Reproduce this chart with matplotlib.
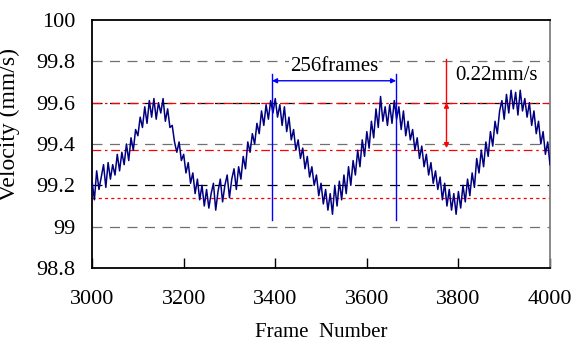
import numpy as np
import matplotlib.pyplot as plt

plt.rcParams['font.family'] = ['Liberation Serif', 'DejaVu Serif']

frame_start = 3000
frame_step = 5
velocity = [
    99.22, 99.13, 99.27, 99.18, 99.24, 99.30, 99.19, 99.31, 99.23, 99.30,
    99.25, 99.35, 99.27, 99.36, 99.30, 99.40, 99.32, 99.43, 99.37, 99.47,
    99.44, 99.53, 99.48, 99.58, 99.50, 99.61, 99.53, 99.62, 99.52, 99.60,
    99.55, 99.62, 99.51, 99.57, 99.48, 99.49, 99.41, 99.36, 99.41, 99.32,
    99.35, 99.26, 99.31, 99.21, 99.26, 99.16, 99.23, 99.13, 99.20, 99.10,
    99.18, 99.09, 99.16, 99.21, 99.08, 99.17, 99.23, 99.12, 99.20, 99.25,
    99.14, 99.23, 99.28, 99.18, 99.29, 99.23, 99.34, 99.28, 99.41, 99.36,
    99.45, 99.40, 99.50, 99.45, 99.56, 99.49, 99.59, 99.52, 99.61, 99.55,
    99.62, 99.53, 99.59, 99.49, 99.58, 99.46, 99.53, 99.42, 99.47, 99.37,
    99.42, 99.33, 99.38, 99.28, 99.34, 99.24, 99.29, 99.20, 99.25, 99.15,
    99.21, 99.11, 99.18, 99.08, 99.16, 99.06, 99.20, 99.10, 99.22, 99.13,
    99.25, 99.16, 99.29, 99.20, 99.32, 99.25, 99.37, 99.29, 99.42, 99.34,
    99.46, 99.38, 99.51, 99.43, 99.57, 99.48, 99.63, 99.51, 99.58, 99.49,
    99.59, 99.50, 99.61, 99.52, 99.58, 99.47, 99.56, 99.44, 99.51, 99.42,
    99.47, 99.37, 99.43, 99.33, 99.39, 99.29, 99.35, 99.25, 99.31, 99.21,
    99.27, 99.18, 99.24, 99.13, 99.21, 99.10, 99.18, 99.08, 99.16, 99.06,
    99.17, 99.09, 99.20, 99.12, 99.23, 99.15, 99.26, 99.19, 99.33, 99.26,
    99.37, 99.29, 99.41, 99.34, 99.46, 99.39, 99.51, 99.45, 99.56, 99.61,
    99.52, 99.64, 99.55, 99.66, 99.57, 99.65, 99.54, 99.66, 99.56, 99.62,
    99.53, 99.60, 99.49, 99.56, 99.45, 99.51, 99.40, 99.46, 99.35, 99.41,
    99.30,
]
frames = frame_start + frame_step * np.arange(len(velocity))

y_ticks = [98.8, 99.0, 99.2, 99.4, 99.6, 99.8, 100.0]
y_labels = ['98.8', '99', '99.2', '99.4', '99.6', '99.8', '100']
x_ticks = [3000, 3200, 3400, 3600, 3800, 4000]

# reference lines
grid_gray = [99.0, 99.4, 99.8]
grid_black = [99.2, 99.6]
red_dashdot = [99.6, 99.37]
red_dotted = 99.14

# period marks
period_left, period_right = 3393, 3664
period_y = 99.706
period_span = (99.03, 99.74)
amp_x = 3774
amp_top, amp_hi, amp_lo = 99.81, 99.6, 99.38

fig = plt.figure(figsize=(5.72, 3.45), dpi=100)
ax = fig.add_axes([0.161, 0.2232, 0.8005, 0.7188])

for g in grid_gray:
    ax.axhline(g, color='#707070', lw=0.9, dashes=(8, 6), zorder=1)
for g in grid_black:
    ax.axhline(g, color='black', lw=0.9, dashes=(8, 6), zorder=1)
for r in red_dashdot:
    ax.axhline(r, color='red', lw=0.9, dashes=(7, 3, 2, 3), zorder=2)
ax.axhline(red_dotted, color='red', lw=0.9, dashes=(2.5, 2.5), zorder=2)

ax.plot(frames, velocity, color='#000080', lw=1.1, zorder=3)

for px in (period_left, period_right):
    ax.plot([px, px], period_span, color='#0000ff', lw=1.0, zorder=4)
ax.annotate('', xy=(period_right, period_y), xytext=(period_left, period_y),
            arrowprops=dict(arrowstyle='<|-|>', color='#0000ff', lw=1.0,
                            shrinkA=0, shrinkB=0, mutation_scale=7), zorder=4)
ax.text(3528, 99.777, '256frames', ha='center', va='center', fontsize=15,
        bbox=dict(facecolor='white', edgecolor='none', pad=0.5), zorder=5)

ax.plot([amp_x, amp_x], [amp_hi, amp_top], color='red', lw=1.0, zorder=4)
ax.annotate('', xy=(amp_x, amp_lo), xytext=(amp_x, amp_hi),
            arrowprops=dict(arrowstyle='<|-|>', color='red', lw=1.0,
                            shrinkA=0, shrinkB=0, mutation_scale=7), zorder=4)
ax.text(3794, 99.73, '0.22mm/s', ha='left', va='center', fontsize=15,
        bbox=dict(facecolor='white', edgecolor='none', pad=0.5), zorder=5)

ax.set_xlim(3000, 4000)
ax.set_ylim(98.8, 100.0)
ax.set_xticks(x_ticks)
ax.set_yticks(y_ticks)
ax.set_yticklabels(y_labels)
ax.tick_params(axis='x', direction='in', length=7, width=1, pad=16, labelsize=16)
ax.tick_params(axis='y', length=0, pad=12, labelsize=16)
for s in ('left', 'bottom', 'top'):
    ax.spines[s].set_linewidth(1.3)
    ax.spines[s].set_color('black')
ax.spines['right'].set_color('#808080')
ax.spines['right'].set_linewidth(1.3)

ax.set_xlabel('Frame  Number', fontsize=15)
ax.xaxis.set_label_coords(0.5, -0.222)
ax.set_ylabel('Velocity (mm/s)', fontsize=17)
ax.yaxis.set_label_coords(-0.157, 0.577)

plt.savefig('out.png', dpi=100)
plt.close()
